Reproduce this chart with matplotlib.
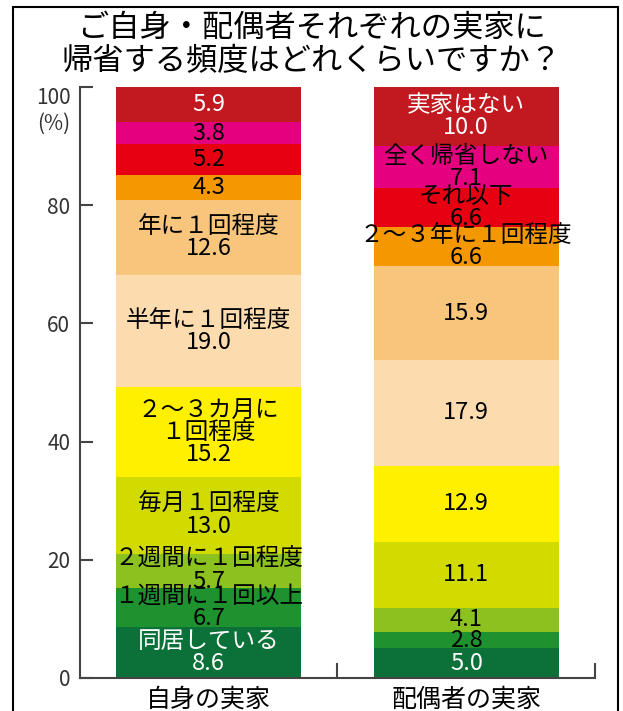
import numpy as np
import matplotlib.pyplot as plt
from matplotlib.patches import Rectangle

plt.rcParams['font.family'] = ['Noto Sans CJK JP', 'DejaVu Sans']

title_lines = ['ご自身・配偶者それぞれの実家に', '帰省する頻度はどれくらいですか？']
groups = ['自身の実家', '配偶者の実家']
categories = ['同居している', '１週間に１回以上', '２週間に１回程度', '毎月１回程度',
              '２～３カ月に\n１回程度', '半年に１回程度', '年に１回程度',
              '２～３年に１回程度', 'それ以下', '全く帰省しない', '実家はない']
self_home = [8.6, 6.7, 5.7, 13.0, 15.2, 19.0, 12.6, 4.3, 5.2, 3.8, 5.9]
spouse_home = [5.0, 2.8, 4.1, 11.1, 12.9, 17.9, 15.9, 6.6, 6.6, 7.1, 10.0]
# which bar carries the category name
name_bar = [0, 0, 0, 0, 0, 0, 0, 1, 1, 1, 1]

colors = ['#0B7138', '#1D922F', '#8CC21F', '#D2DB00', '#FFF000', '#FCDBAE',
          '#F8C57C', '#F39800', '#E60012', '#E4007F', '#C1191F']
white_text = [0, 10]

fig = plt.figure(figsize=(6.23, 7.11), dpi=100)
ax = fig.add_axes([80/623, 33/711, 515/623, 591/711])

for x, series in enumerate([self_home, spouse_home]):
    bottom = 0
    for i, v in enumerate(series):
        ax.bar(x, v, width=0.72, bottom=bottom, color=colors[i])
        s = f'{v:.1f}'
        if name_bar[i] == x:
            s = categories[i] + '\n' + s
        tc = 'white' if i in white_text else 'black'
        ax.text(x, bottom + v/2, s, ha='center', va='center', fontsize=17,
                color=tc, linespacing=0.95)
        bottom += v

ax.set_xlim(-0.5, 1.5)
ax.set_ylim(0, 100)
for side in ['top', 'right']:
    ax.spines[side].set_visible(False)
for side in ['left', 'bottom']:
    ax.spines[side].set_color('#444444')
    ax.spines[side].set_linewidth(1.5)

ax.set_yticks([0, 20, 40, 60, 80, 100], labels=['0', '20', '40', '60', '80', '100\n(%)'])
ax.get_yticklabels()[-1].set_va('top')
ax.tick_params(axis='y', direction='in', length=9, width=1.5, pad=7,
               labelsize=15, color='#444444', labelcolor='#333333')

ax.set_xticks([0, 1], labels=groups)
ax.tick_params(axis='x', length=0, labelsize=18, pad=6)
ax.set_xticks([0.5, 1.5], minor=True)
ax.tick_params(axis='x', which='minor', direction='in', length=11, width=1.5,
               color='#444444')

fig.text(0.5, 1 - 28/711, title_lines[0], ha='center', va='center', fontsize=22.5)
fig.text(0.5, 1 - 61/711, title_lines[1], ha='center', va='center', fontsize=22.5)

fig.add_artist(Rectangle((13/623, -0.05), 605/623, 1.05 - 7/711,
                         transform=fig.transFigure, fill=False, lw=1.5, ec='black'))

fig.savefig('out.png', dpi=100)
